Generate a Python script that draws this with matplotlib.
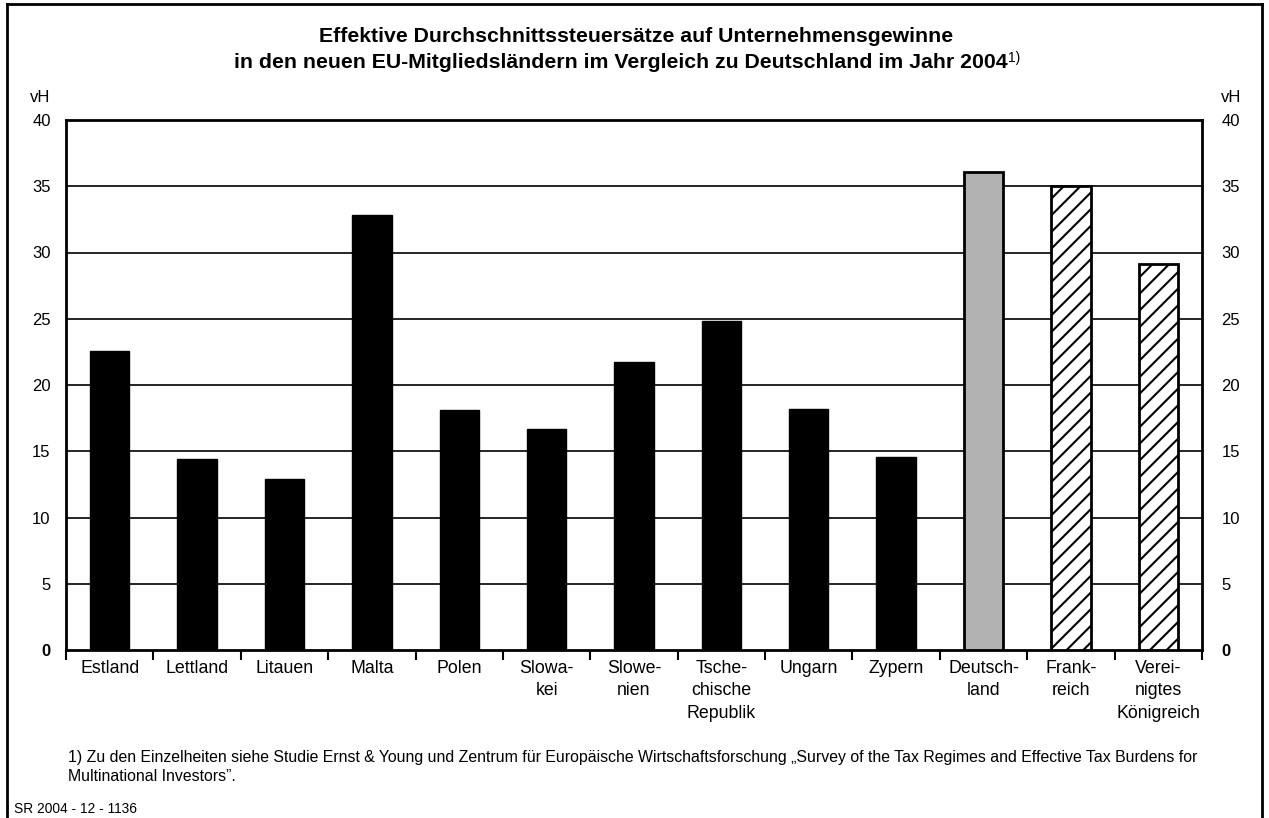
import matplotlib
matplotlib.use("Agg")
import matplotlib.pyplot as plt
import numpy as np

plt.rcParams['font.family'] = ['Liberation Sans', 'DejaVu Sans']
plt.rcParams['hatch.linewidth'] = 1.5

# data (vH)
laender = ["Estland", "Lettland", "Litauen", "Malta", "Polen", "Slowa-\nkei",
           "Slowe-\nnien", "Tsche-\nchische\nRepublik", "Ungarn", "Zypern",
           "Deutsch-\nland", "Frank-\nreich", "Verei-\nnigtes\nKönigreich"]
steuersatz = [22.6, 14.4, 12.9, 32.8, 18.1, 16.7, 21.7, 24.8, 18.2, 14.6, 36.1, 35.0, 29.1]
gruppe = ["neu"] * 10 + ["de", "alt", "alt"]
yticks = [0, 5, 10, 15, 20, 25, 30, 35, 40]

fig = plt.figure(figsize=(12.69, 8.18), dpi=100)
ax = fig.add_axes([66 / 1269, 1 - 650 / 818, (1202 - 66) / 1269, (650 - 120) / 818])

x = np.arange(len(laender))
for xi, val, g in zip(x, steuersatz, gruppe):
    if g == "neu":
        ax.bar(xi, val, 0.45, color="black", edgecolor="black", zorder=3)
    elif g == "de":
        ax.bar(xi, val, 0.45, color="#b2b2b2", edgecolor="black", linewidth=2, zorder=3)
    else:
        ax.bar(xi, val, 0.45, color="white", edgecolor="black", hatch="//", linewidth=2, zorder=3)

ax.set_xlim(-0.5, len(laender) - 0.5)
ax.set_ylim(0, 40)
for y in yticks[1:-1]:
    ax.axhline(y, color="black", lw=1.2, zorder=1)
for s in ax.spines.values():
    s.set_linewidth(2)

# ticks at category boundaries, labels in the middle
ax.set_xticks(np.arange(-0.5, len(laender)))
ax.set_xticklabels([])
ax.tick_params(axis="x", direction="out", length=7, width=1.5)
for xi, lab in zip(x, laender):
    ax.text(xi, -0.75, lab, ha="center", va="top", fontsize=12.8, linespacing=1.42)

# y labels on both sides (different padding left/right)
ax.set_yticks(yticks)
ax.tick_params(axis="y", length=0, labelsize=12, pad=11)
ax_r = ax.twinx()
ax_r.set_ylim(0, 40)
ax_r.set_yticks(yticks)
ax_r.tick_params(axis="y", length=0, labelsize=12, pad=14)
for a in (ax, ax_r):
    for t in a.get_yticklabels():
        if t.get_text() == "0":
            t.set_fontweight("bold")
ax_r.spines[:].set_visible(False)

fig.text(50 / 1269, 1 - 97 / 818, "vH", ha="right", va="center", fontsize=12)
fig.text(1221 / 1269, 1 - 97 / 818, "vH", ha="left", va="center", fontsize=12)

fig.text(636 / 1269, 1 - 37 / 818, "Effektive Durchschnittssteuersätze auf Unternehmensgewinne",
         ha="center", va="center", fontsize=15.3, fontweight="bold")
t2 = fig.text(621 / 1269, 1 - 63 / 818,
              "in den neuen EU-Mitgliedsländern im Vergleich zu Deutschland im Jahr 2004",
              ha="center", va="center", fontsize=15.3, fontweight="bold")
fig.canvas.draw()
bb = t2.get_window_extent().transformed(fig.transFigure.inverted())
fig.text(bb.x1 + 0.0005, 1 - 58 / 818, "1)", ha="left", va="center", fontsize=10)

fig.text(68 / 1269, 1 - 767 / 818,
         "1) Zu den Einzelheiten siehe Studie Ernst & Young und Zentrum für Europäische "
         "Wirtschaftsforschung \u201eSurvey of the Tax Regimes and Effective Tax Burdens for\n"
         "Multinational Investors\u201d.",
         ha="left", va="center", fontsize=11.4, linespacing=1.33)
fig.text(14 / 1269, 1 - 809 / 818, "SR 2004 - 12 - 1136", ha="left", va="center", fontsize=9.9)

# outer frame
fig.add_artist(plt.Line2D([7 / 1269, 7 / 1269], [0, 1 - 4 / 818], color="black", lw=2))
fig.add_artist(plt.Line2D([1262 / 1269, 1262 / 1269], [0, 1 - 4 / 818], color="black", lw=2))
fig.add_artist(plt.Line2D([7 / 1269, 1262 / 1269], [1 - 4 / 818, 1 - 4 / 818], color="black", lw=2))

fig.savefig("out.png", dpi=100)
